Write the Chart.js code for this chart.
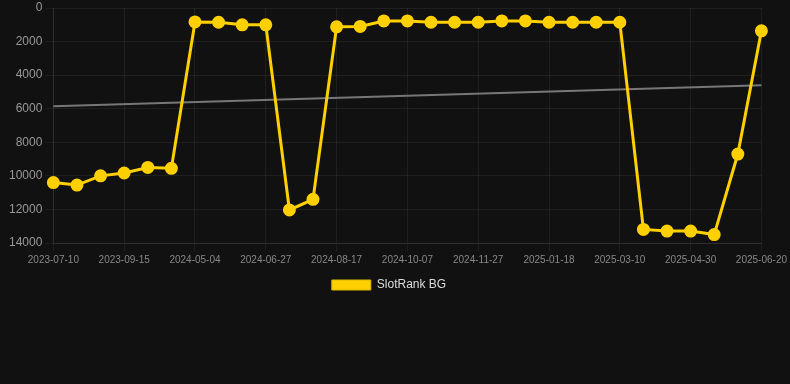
<!DOCTYPE html>
<html>
<head>
<meta charset="utf-8">
<script src="https://cdn.jsdelivr.net/npm/chart.js@4/dist/chart.umd.min.js"></script>
<style>
  html, body { margin: 0; padding: 0; background: #111111; }
  #wrap { position: relative; width: 790px; height: 301px; }
</style>
</head>
<body>
<div id="wrap"><canvas id="c"></canvas></div>
<script>
const categories = [
  "2023-07-10","2023-08-01","2023-08-23","2023-09-15","2023-10-08","2023-11-01",
  "2024-05-04","2024-05-22","2024-06-09","2024-06-27","2024-07-14","2024-07-31",
  "2024-08-17","2024-09-03","2024-09-20","2024-10-07","2024-10-24","2024-11-10",
  "2024-11-27","2024-12-14","2025-01-01","2025-01-18","2025-02-04","2025-02-21",
  "2025-03-10","2025-03-27","2025-04-13","2025-04-30","2025-05-17","2025-06-03",
  "2025-06-20"
];
const rankValues = [
  10400, 10550, 10000, 9830, 9500, 9550,
  830, 850, 1000, 1000, 12030, 11400,
  1120, 1100, 770, 770, 850, 850,
  850, 770, 770, 850, 850, 850,
  850, 13190, 13290, 13290, 13500, 8700,
  1360
];
const trendStart = 5850;
const trendEnd = 4600;
const yTicks = [0, 2000, 4000, 6000, 8000, 10000, 12000, 14000];

const trendValues = categories.map((_, i) =>
  i === 0 ? trendStart : (i === categories.length - 1 ? trendEnd : null));

const YELLOW = '#FFD000';

new Chart(document.getElementById('c'), {
  type: 'line',
  data: {
    labels: categories,
    datasets: [
      {
        label: 'SlotRank BG',
        data: rankValues,
        borderColor: YELLOW,
        backgroundColor: YELLOW,
        borderWidth: 3,
        pointRadius: 5,
        pointHoverRadius: 5,
        pointBackgroundColor: YELLOW,
        pointBorderColor: YELLOW,
        tension: 0,
        order: 0
      },
      {
        label: 'trend',
        data: trendValues,
        spanGaps: true,
        borderColor: '#777777',
        borderWidth: 2,
        pointRadius: 0,
        pointHoverRadius: 0,
        tension: 0,
        order: 1
      }
    ]
  },
  options: {
    responsive: true,
    maintainAspectRatio: false,
    animation: false,
    layout: { padding: { left: 6, right: 18, top: 0, bottom: 0 } },
    plugins: {
      legend: {
        position: 'bottom',
        labels: {
          color: '#dddddd',
          boxWidth: 39,
          boxHeight: 10,
          font: { size: 12, family: 'Liberation Sans, Arial, sans-serif' },
          filter: (item) => item.text === 'SlotRank BG',
          generateLabels: (chart) => {
            const items = Chart.defaults.plugins.legend.labels.generateLabels(chart);
            items.forEach(it => { it.lineWidth = 1; it.strokeStyle = '#E0B800'; });
            return items;
          }
        }
      },
      tooltip: { enabled: false }
    },
    scales: {
      x: {
        offset: false,
        grid: { color: 'rgba(255,255,255,0.06)', tickColor: 'rgba(255,255,255,0.06)' },
        border: { color: 'rgba(255,255,255,0.08)' },
        ticks: {
          color: '#888888',
          font: { size: 10, family: 'Liberation Sans, Arial, sans-serif' },
          maxRotation: 0,
          autoSkip: true,
          maxTicksLimit: 11
        }
      },
      y: {
        reverse: true,
        min: 0,
        max: 14000,
        afterBuildTicks: (axis) => { axis.ticks = yTicks.map(v => ({ value: v })); },
        grid: { color: 'rgba(255,255,255,0.06)', tickColor: 'rgba(255,255,255,0.06)' },
        border: { color: 'rgba(255,255,255,0.08)' },
        ticks: {
          color: '#999999',
          font: { size: 12, family: 'Liberation Sans, Arial, sans-serif', lineHeight: 0.5 },
          callback: (v) => String(v)
        }
      }
    }
  }
});
</script>
</body>
</html>
